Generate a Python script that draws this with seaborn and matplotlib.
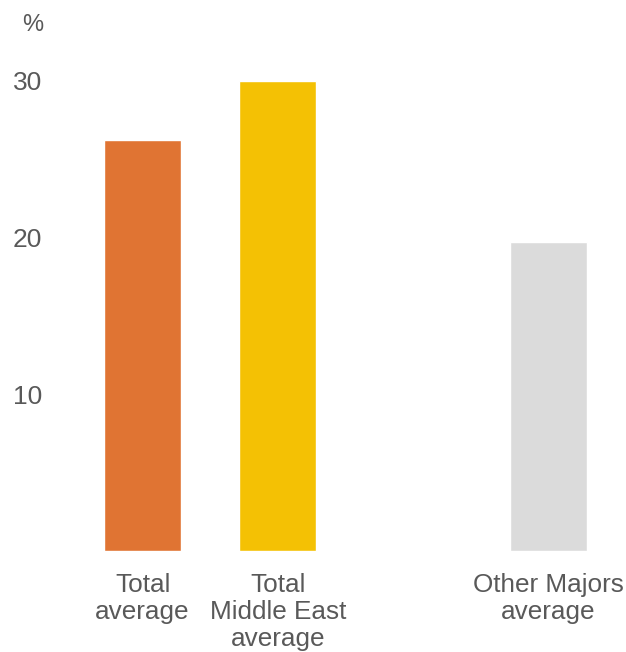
import matplotlib
matplotlib.use("Agg")
import matplotlib.pyplot as plt
import seaborn as sns
import pandas as pd

categories = ["Total\naverage", "Total\nMiddle East\naverage", "Other Majors\naverage"]
values = [26.2, 30.0, 19.7]
colors = ["#E07433", "#F4C104", "#DBDBDB"]
order = [categories[0], categories[1], " ", categories[2]]
yticks = [10, 20, 30]

sns.set_theme(style="white")
plt.rcParams["font.family"] = ["Liberation Sans", "DejaVu Sans"]

df = pd.DataFrame({"cat": categories, "val": values})

fig = plt.figure(figsize=(6.26, 6.52), dpi=100)
ax = fig.add_axes([75 / 626, (652 - 550.5) / 652, (615.6 - 75) / 626, (550.5 - 49.7) / 652])

sns.barplot(data=df, x="cat", y="val", hue="cat", order=order, hue_order=categories,
            palette=colors, width=0.57, saturation=1, legend=False, ax=ax)

ax.set_xlim(-0.5, 3.5)
ax.set_ylim(0, 32)
ax.set_yticks(yticks)
ax.set_yticklabels([str(t) for t in yticks])
ax.set_xlabel("")
ax.set_ylabel("")
for s in ax.spines.values():
    s.set_visible(False)

ax.tick_params(axis="y", length=0, pad=23.5, labelsize=19, labelcolor="#595959")
ax.tick_params(axis="x", length=0, pad=16, labelsize=18.8, labelcolor="#595959")
for lab in ax.get_xticklabels():
    lab.set_linespacing(1.17)
    lab.set_verticalalignment("top")

fig.text(33 / 626, 1 - 25 / 652, "%", ha="center", va="center", fontsize=17, color="#595959")

fig.savefig("out.png", dpi=100)
